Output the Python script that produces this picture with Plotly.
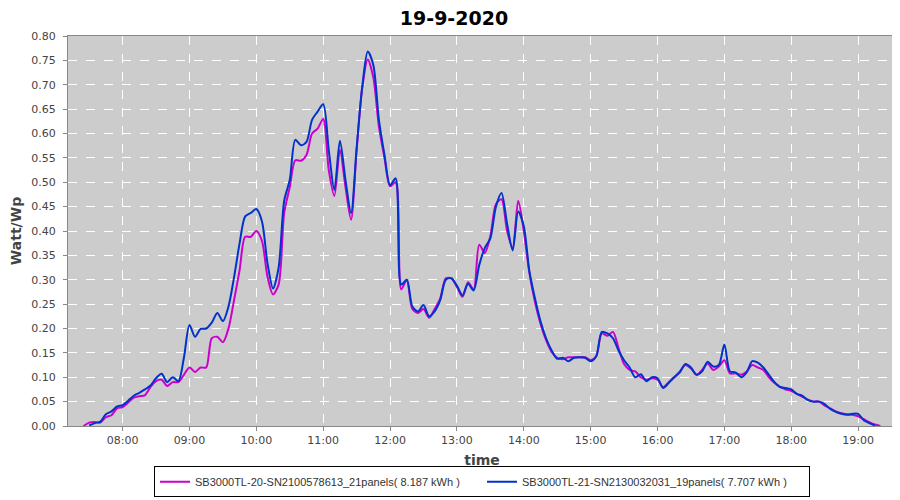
"""
Daily yield plot of two SMA inverters, normalised to Watt per Wp,
drawn with plotly graph_objects in the look of the original JFreeChart output.
"""
import pandas as pd
import plotly.graph_objects as go

day = '2020-09-19'
title = '19-9-2020'

# 5 minute samples, 07:25 .. 19:20
times = pd.date_range(day + ' 07:25', day + ' 19:20', freq='5min')

names = ['SB3000TL-20-SN2100578613_21panels( 8.187 kWh )',
	'SB3000TL-21-SN2130032031_19panels( 7.707 kWh )']
colors = ['#cc00cc', '#0033cc']

inv20 = [0.000, 0.007, 0.008, 0.007, 0.018, 0.022, 0.036, 0.039, 0.048, 0.058,
	0.061, 0.063, 0.080, 0.092, 0.095, 0.082, 0.090, 0.090, 0.105, 0.120,
	0.111, 0.120, 0.120, 0.180, 0.183, 0.172, 0.200, 0.258, 0.320, 0.388,
	0.388, 0.400, 0.380, 0.306, 0.270, 0.290, 0.437, 0.490, 0.545, 0.544,
	0.556, 0.600, 0.610, 0.630, 0.525, 0.472, 0.566, 0.490, 0.423, 0.566,
	0.693, 0.752, 0.715, 0.614, 0.550, 0.492, 0.500, 0.280, 0.300, 0.240,
	0.232, 0.240, 0.222, 0.240, 0.262, 0.303, 0.303, 0.285, 0.265, 0.295,
	0.280, 0.372, 0.355, 0.390, 0.455, 0.465, 0.400, 0.365, 0.462, 0.400,
	0.314, 0.255, 0.210, 0.176, 0.152, 0.140, 0.137, 0.141, 0.141, 0.141,
	0.141, 0.135, 0.143, 0.190, 0.185, 0.193, 0.160, 0.127, 0.115, 0.112,
	0.100, 0.095, 0.098, 0.095, 0.080, 0.090, 0.100, 0.112, 0.125, 0.118,
	0.105, 0.115, 0.128, 0.115, 0.122, 0.135, 0.108, 0.108, 0.105, 0.112,
	0.125, 0.120, 0.115, 0.100, 0.088, 0.080, 0.075, 0.072, 0.066, 0.060,
	0.054, 0.050, 0.050, 0.042, 0.036, 0.030, 0.026, 0.024, 0.023, 0.020,
	0.014, 0.008, 0.003, 0.000]

inv21 = [None, 0.001, 0.006, 0.009, 0.024, 0.030, 0.040, 0.043, 0.052, 0.062,
	0.068, 0.075, 0.083, 0.098, 0.107, 0.090, 0.100, 0.092, 0.140, 0.207,
	0.183, 0.199, 0.200, 0.212, 0.232, 0.215, 0.245, 0.305, 0.375, 0.430,
	0.437, 0.445, 0.420, 0.334, 0.282, 0.325, 0.462, 0.505, 0.587, 0.576,
	0.583, 0.628, 0.645, 0.660, 0.566, 0.484, 0.585, 0.505, 0.437, 0.570,
	0.695, 0.768, 0.740, 0.628, 0.556, 0.494, 0.508, 0.290, 0.300, 0.245,
	0.235, 0.248, 0.225, 0.235, 0.258, 0.300, 0.303, 0.288, 0.268, 0.292,
	0.278, 0.330, 0.365, 0.385, 0.450, 0.478, 0.415, 0.360, 0.440, 0.410,
	0.318, 0.262, 0.215, 0.180, 0.155, 0.138, 0.140, 0.133, 0.140, 0.141,
	0.140, 0.133, 0.143, 0.193, 0.190, 0.180, 0.155, 0.135, 0.120, 0.100,
	0.106, 0.092, 0.100, 0.098, 0.078, 0.088, 0.100, 0.110, 0.127, 0.120,
	0.105, 0.112, 0.132, 0.122, 0.125, 0.167, 0.112, 0.110, 0.100, 0.110,
	0.133, 0.130, 0.120, 0.105, 0.090, 0.080, 0.078, 0.075, 0.066, 0.062,
	0.053, 0.050, 0.050, 0.045, 0.035, 0.029, 0.025, 0.023, 0.025, 0.025,
	0.012, 0.006, 0.001, None]

tickvals = pd.date_range(day + ' 08:00', day + ' 19:00', freq='1h')
ticktext = [t.strftime('%H:%M') for t in tickvals]

fig = go.Figure()
for name, col, ys in zip(names, colors, [inv20, inv21]):
	fig.add_trace(go.Scatter(x=times, y=ys, name=name, mode='lines',
		line=dict(color=col, width=2, shape='spline', smoothing=0.8),
		connectgaps=False))

# the page body has an 8px margin, so the figure is 8px smaller than the window
axis_font = dict(family='DejaVu Sans', size=11, color='#444444')
fig.update_layout(
	width=892, height=492,
	margin=dict(l=60, r=4, t=28, b=74, autoexpand=False),
	paper_bgcolor='white', plot_bgcolor='#cccccc',
	title=dict(text='<b>' + title + '</b>', x=0.5, xanchor='center',
		y=0.978, yanchor='middle', yref='container',
		font=dict(family='DejaVu Sans', size=19, color='black')),
	showlegend=True,
	legend=dict(orientation='h', x=0.5, xanchor='center', y=-0.103,
		yanchor='top', bordercolor='black', borderwidth=1,
		font=dict(family='Liberation Sans', size=11, color='#333333'),
		entrywidth=282, entrywidthmode='pixels', itemwidth=30,
		tracegroupgap=0),
)
fig.update_xaxes(range=[day + ' 07:11', day + ' 19:34'], automargin=False,
	tickvals=tickvals, ticktext=ticktext, tickfont=axis_font,
	showgrid=True, gridcolor='white', griddash='dash', gridwidth=1,
	showline=True, linecolor='#888888', mirror=True,
	ticks='outside', ticklen=4, tickcolor='#888888', zeroline=False,
	title=dict(text='<b>time</b>', standoff=8,
		font=dict(family='DejaVu Sans', size=14, color='#444444')))
fig.update_yaxes(range=[0, 0.8], dtick=0.05, tickformat='.2f', automargin=True,
	tickfont=axis_font, ticklabelstandoff=5,
	showgrid=True, gridcolor='white', griddash='dash', gridwidth=1,
	showline=True, linecolor='#888888', mirror=True,
	ticks='outside', ticklen=4, tickcolor='#888888', zeroline=False,
	title=dict(text='<b>Watt/Wp</b>', standoff=6,
		font=dict(family='DejaVu Sans', size=14, color='#444444')))

fig.write_html("out.html")
